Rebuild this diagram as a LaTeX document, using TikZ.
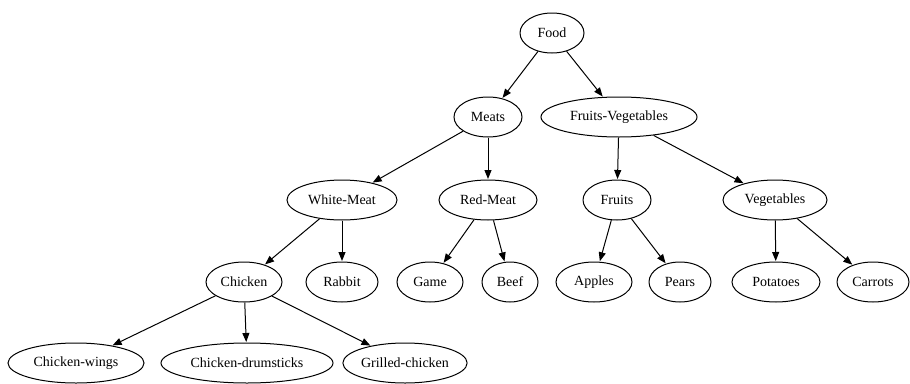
\documentclass[tikz,border=0pt]{standalone}
\usepackage{fontspec}
\setmainfont{Liberation Serif}
\usetikzlibrary{shapes.geometric,arrows.meta}
\begin{document}
\begin{tikzpicture}[x=1pt,y=-1pt,
  item/.style={ellipse,draw,line width=1pt,inner sep=0pt,minimum height=40pt,font=\fontsize{14}{16}\selectfont},
  link/.style={line width=1pt,-{Triangle[length=9pt,width=7pt]},shorten >=0.5pt}]
\useasboundingbox (0,0) rectangle (910,383);
% tree of nodes
\node[item,minimum width=64pt]  (food)   at (552,33)  {Food};
\node[item,minimum width=68pt]  (meats)  at (488,117) {Meats};
\node[item,minimum width=156pt] (fv)     at (619,117) {Fruits-Vegetables};
\node[item,minimum width=110pt] (white)  at (342,200) {White-Meat};
\node[item,minimum width=98pt]  (red)    at (488,200) {Red-Meat};
\node[item,minimum width=68pt]  (fruits) at (617,200) {Fruits};
\node[item,minimum width=104pt] (veg)    at (775,200) {Vegetables};
\node[item,minimum width=76pt]  (chick)  at (244,282) {Chicken};
\node[item,minimum width=72pt]  (rabbit) at (342,282) {Rabbit};
\node[item,minimum width=66pt]  (game)   at (430,282) {Game};
\node[item,minimum width=56pt]  (beef)   at (510,282) {Beef};
\node[item,minimum width=76pt]  (apples) at (594,282) {Apples};
\node[item,minimum width=62pt]  (pears)  at (680,282) {Pears};
\node[item,minimum width=88pt]  (pot)    at (776,282) {Potatoes};
\node[item,minimum width=72pt]  (car)    at (873,282) {Carrots};
\node[item,minimum width=136pt] (wings)  at (76,363)  {Chicken-wings};
\node[item,minimum width=172pt] (drum)   at (247,363) {Chicken-drumsticks};
\node[item,minimum width=124pt] (grill)  at (405,363) {Grilled-chicken};
% edges
\draw[link] (food) -- (meats);
\draw[link] (food) -- (fv);
\draw[link] (meats) -- (white);
\draw[link] (meats) -- (red);
\draw[link] (fv) -- (fruits);
\draw[link] (fv) -- (veg);
\draw[link] (white) -- (chick);
\draw[link] (white) -- (rabbit);
\draw[link] (red) -- (game);
\draw[link] (red) -- (beef);
\draw[link] (fruits) -- (apples);
\draw[link] (fruits) -- (pears);
\draw[link] (veg) -- (pot);
\draw[link] (veg) -- (car);
\draw[link] (chick) -- (wings);
\draw[link] (chick) -- (drum);
\draw[link] (chick) -- (grill);
\end{tikzpicture}
\end{document}
